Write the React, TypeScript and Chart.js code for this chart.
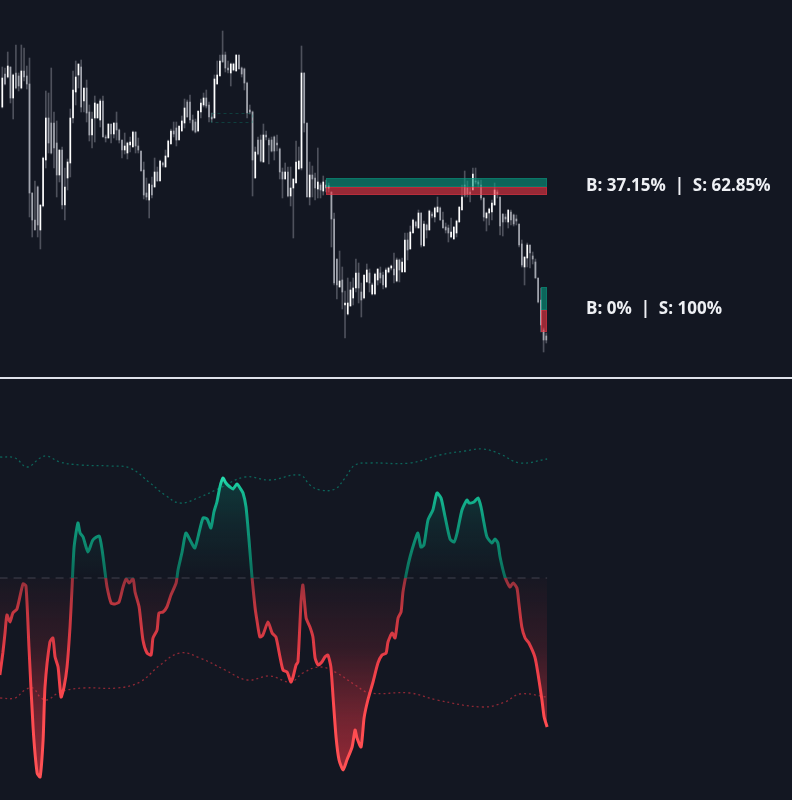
import React, { useEffect, useRef } from 'react';
import { Chart, registerables } from 'chart.js';
Chart.register(...registerables);

const BG = '#131722';

// ---- price bars (one per bar index 0..200) ----
const opens = [
  293,326,323,333,302,327,324,312,329,324,
  316,207,180,213,170,194,240,282,277,277,
  257,225,250,195,222,237,282,308,325,333,
  299,312,288,265,282,282,280,299,263,262,
  276,266,277,270,260,250,247,255,253,268,
  254,249,230,207,200,215,213,228,219,237,
  233,243,256,269,272,260,269,277,298,298,
  280,278,269,288,295,302,295,283,282,316,
  324,345,345,332,327,330,329,345,332,331,
  317,290,288,222,260,260,238,265,260,260,
  263,257,251,228,221,228,204,212,217,231,
  232,327,277,203,225,222,211,215,209,215,
  212,208,181,141,113,120,95,86,94,102,
  112,127,108,102,118,127,106,106,120,127,
  125,113,128,132,131,119,140,128,128,160,
  151,167,178,172,187,154,175,170,186,183,
  188,192,180,173,172,163,161,167,178,190,
  215,212,208,210,219,218,215,202,182,187,
  188,195,208,203,186,183,178,188,185,181,
  176,156,133,142,155,144,138,122,100,70,
  64,
];
const highs = [
  333,332,348,333,326,355,327,355,352,334,
  342,207,219,214,195,243,309,307,332,288,
  279,250,253,232,241,291,329,339,336,340,
  312,320,295,288,304,296,301,304,265,276,
  276,277,288,271,260,267,258,263,269,268,
  262,249,238,222,216,223,242,233,240,238,
  250,260,271,278,278,274,284,301,300,305,
  285,281,289,301,307,310,298,287,325,339,
  345,369,348,339,337,337,345,345,333,332,
  318,295,289,253,263,265,276,269,262,263,
  264,265,252,232,237,233,233,221,259,253,
  354,327,277,238,234,227,252,217,224,220,
  217,208,187,141,149,133,109,122,118,122,
  141,137,117,125,136,131,117,127,131,133,
  128,132,133,135,147,142,141,142,167,167,
  174,181,179,190,187,179,176,190,188,193,
  203,193,188,177,175,182,173,180,193,215,
  229,219,212,232,232,220,220,202,188,192,
  200,217,210,203,186,186,190,190,186,185,
  176,160,143,157,155,148,141,122,112,72,
  67,
];
const lows = [
  292,315,322,297,281,311,309,311,319,311,
  183,163,170,163,151,193,232,247,246,232,
  203,218,191,180,210,223,277,295,312,288,
  288,278,259,252,258,282,273,263,258,262,
  257,262,260,257,242,246,241,248,253,247,
  247,229,201,200,182,202,213,219,219,233,
  233,243,256,263,254,260,269,272,283,277,
  269,267,268,282,293,292,278,278,282,316,
  324,338,328,327,314,329,329,331,323,310,
  282,286,204,222,245,238,238,260,236,248,
  240,249,221,202,221,203,194,162,217,231,
  230,268,203,195,203,200,202,202,205,208,
  208,153,115,101,113,91,62,85,94,95,
  108,97,83,101,118,108,105,105,115,117,
  111,112,127,130,117,118,118,128,128,140,
  151,167,172,172,153,154,162,170,182,178,
  188,180,172,167,158,162,161,163,178,190,
  203,203,198,210,216,213,200,179,169,175,
  180,195,202,165,164,178,172,175,174,175,
  153,133,115,133,132,136,122,97,68,48,
  57,
];
const closes = [
  322,316,334,302,325,312,314,329,323,316,
  207,180,170,175,195,242,282,257,247,252,
  225,250,195,213,238,282,310,323,336,293,
  312,287,265,281,297,296,299,263,262,276,
  266,277,270,260,250,254,257,258,268,254,
  250,229,205,203,216,205,228,219,239,235,
  244,259,269,266,260,274,279,292,283,280,
  270,268,289,297,302,294,283,281,321,325,
  339,338,332,330,336,336,345,331,326,317,
  287,288,240,248,246,239,265,263,255,249,
  249,255,228,221,228,204,212,221,238,239,
  327,277,203,225,221,212,218,210,218,212,
  214,181,117,115,119,108,97,97,110,112,
  127,112,100,125,130,117,115,126,131,122,
  115,130,132,134,125,140,130,138,160,150,
  168,180,174,187,155,176,170,189,184,192,
  193,180,172,170,167,168,173,179,193,203,
  205,206,206,226,218,216,202,183,187,191,
  197,210,206,174,178,181,190,180,176,179,
  155,135,143,155,147,141,122,98,75,60,
  60,
];

// ---- order-block zones (bar index / price) ----
const zoneStart = [119, 198.2];
const zoneEnd = [200.3, 200.3];
const zoneTop = [222, 113];
const zoneMid = [213, 90];
const zoneBottom = [205, 68];
const buyPct = ['37.15', '0'];
const sellPct = ['62.85', '100'];

// faint mitigated zone
const ghostStart = [76.7];
const ghostEnd = [91.8];
const ghostTop = [287];
const ghostBottom = [278];

// ---- oscillator (bar index, value) ----
const oscT = [
  -0.9,0.2,1.0,1.7,2.8,3.9,5.4,7.6,8.7,9.8,11.3,12.8,13.9,15.0,15.7,17.5,18.6,19.4,20.5,21.6,
  22.7,23.8,24.9,25.6,26.4,27.8,28.6,29.7,31.5,33.3,35.6,36.7,37.8,38.5,40.0,41.4,42.9,44.4,45.5,46.6,
  48.1,48.8,50.3,51.7,53.2,54.7,55.4,56.9,57.6,59.1,60.5,62.0,63.9,64.6,66.1,67.5,69.4,70.8,72.3,73.8,
  75.3,76.7,77.8,78.9,80.0,81.1,82.2,83.7,84.8,86.3,87.4,88.5,89.6,90.7,91.8,92.9,93.6,94.7,95.8,97.7,
  99.2,100.6,102.1,103.2,104.7,106.1,106.9,108.0,108.7,109.8,110.5,111.7,113.1,114.2,115.0,116.1,117.5,118.6,119.7,120.8,
  121.6,122.7,123.8,125.3,126.7,128.6,129.7,130.4,131.9,133.0,134.4,136.3,138.1,139.6,141.1,141.8,143.3,144.4,145.5,146.6,
  147.3,148.8,149.9,151.4,152.8,153.9,155.0,156.5,158.3,159.8,161.3,162.8,164.6,166.1,167.2,169.0,170.8,171.6,173.4,174.9,
  176.0,177.1,178.2,180.0,181.1,182.2,183.0,184.8,186.6,187.8,189.2,189.9,191.0,192.2,193.6,195.8,196.9,198.4,199.2,200.3,
];
const oscV = [
  -48.5,-37.5,-27.5,-18.5,-22,-17.5,-15.5,-3,-4,-34.5,-74.5,-97.5,-99.5,-81,-54.5,-32,-30,-39.5,-44.5,-59.5,
  -54.5,-44.5,-24.5,-6,15.5,27.5,22.5,20.5,13,19,21,14,2.5,-4.5,-12.5,-13,-12,-4.5,-0.5,-2.5,
  -0.5,-7,-14.5,-31,-37.5,-38.5,-30,-26,-17.5,-17,-14.5,-8.5,-2.5,4,13,22.5,18,15,22.5,30,
  29.5,25,33,38,45.5,50,47.5,45.5,44.5,47,45,42.5,35.5,19,0.5,-14.5,-21,-29.5,-28.5,-22,
  -27.5,-29.5,-39.5,-46,-47,-52,-49.5,-43.5,-42,-12.5,-3.5,-20,-24.5,-29.5,-40,-43.5,-42,-39.5,-38.5,-44.5,
  -59.5,-79.5,-91,-96,-91,-84.5,-76,-80,-84.5,-70,-61,-52,-42.5,-38.5,-37.5,-32,-27.5,-30,-20,-17,
  -7,4,10.5,17.5,22.5,15.5,16.5,29,34,42.5,40,30.5,19.5,18,22.5,34,39,37.5,38,40,
  35.5,27.5,20.5,17.5,19.5,17.5,10.5,0.5,-4.5,-2.5,-5,-12.5,-24.5,-30,-32.5,-39.5,-47.5,-61,-69.5,-74.5,
];
const upperT = [-0.8,4.7,9.1,13.9,16.4,21.2,28.6,39.6,46.9,54.3,59.8,65.3,72.7,80.0,89.2,98.4,109.4,113.1,116.8,122.3,126.0,129.7,135.2,149.9,160.9,170.1,176.7,183.0,190.3,200.3];
const upperV = [60.5,60,55.5,60,61,58,56.5,56,55,47.5,41.5,37.5,40.5,45,50.5,49,51.5,46.5,44,44.5,50,56.5,57.5,57.5,61.5,63.5,64.5,62,57.5,59.5];
const lowerT = [-0.8,4.7,8.3,11.3,13.9,16.4,21.2,29.7,42.2,50.6,58.0,65.3,72.7,81.9,90.0,98.4,106.0,110.5,116.8,123.0,129.7,135.2,149.9,159.8,176.7,184.8,190.3,200.3];
const lowerV = [-60,-60,-56,-55,-59.5,-61,-57,-55,-55,-52,-43.5,-37.5,-40,-46,-51,-49,-52,-47.5,-44.5,-47.5,-53.5,-57.5,-57.5,-61,-64.5,-62,-58,-59.5];
const zeroT = [-1, 200.3];
const zeroV = [0, 0];

const X_MIN = -0.846;
const X_MAX = 290.33;

const zonePlugin = {
  id: 'zones',
  afterDatasetsDraw(chart: any) {
    const { ctx, scales } = chart;
    const x = scales.x, y = scales.y;
    ctx.save();
    ghostStart.forEach((s, i) => {
      const x0 = x.getPixelForValue(s), x1 = x.getPixelForValue(ghostEnd[i]);
      const y0 = y.getPixelForValue(ghostTop[i]), y1 = y.getPixelForValue(ghostBottom[i]);
      ctx.strokeStyle = 'rgba(8,153,129,0.3)';
      ctx.lineWidth = 1;
      ctx.setLineDash([3, 3]);
      ctx.strokeRect(Math.round(x0) + 0.5, Math.round(y0) + 0.5, Math.round(x1 - x0), Math.round(y1 - y0));
    });
    ctx.setLineDash([]);
    zoneStart.forEach((s, i) => {
      const x0 = Math.round(x.getPixelForValue(s));
      const x1 = Math.round(x.getPixelForValue(zoneEnd[i]));
      const yT = Math.round(y.getPixelForValue(zoneTop[i]));
      const yM = Math.round(y.getPixelForValue(zoneMid[i]));
      const yB = Math.round(y.getPixelForValue(zoneBottom[i]));
      ctx.fillStyle = 'rgba(8,153,129,0.6)';
      ctx.fillRect(x0, yT, x1 - x0, yM - yT);
      ctx.fillStyle = 'rgba(242,54,69,0.6)';
      ctx.fillRect(x0, yM, x1 - x0, yB - yM);
      ctx.lineWidth = 1;
      ctx.strokeStyle = 'rgba(8,153,129,0.35)';
      ctx.strokeRect(x0 + 0.5, yT + 0.5, x1 - x0 - 1, yM - yT - 1);
      ctx.strokeStyle = 'rgba(242,54,69,0.35)';
      ctx.strokeRect(x0 + 0.5, yM + 0.5, x1 - x0 - 1, yB - yM - 1);
    });
    ctx.restore();
  },
  afterDraw(chart: any) {
    const { ctx, scales } = chart;
    const x = scales.x, y = scales.y;
    ctx.save();
    ctx.font = '700 17px "Open Sans"';
    ctx.fillStyle = '#eef0f4';
    ctx.textBaseline = 'middle';
    ctx.textAlign = 'left';
    zoneStart.forEach((s, i) => {
      const xr = x.getPixelForValue(zoneEnd[i]);
      const yc = (y.getPixelForValue(zoneTop[i]) + y.getPixelForValue(zoneBottom[i])) / 2;
      ctx.fillText(`B: ${buyPct[i]}%  |  S: ${sellPct[i]}%`, xr + 39, yc);
    });
    ctx.restore();
  },
};

const oscGradPlugin = {
  id: 'oscGrad',
  afterLayout(chart: any) {
    const y = chart.scales.y;
    const ctx = chart.ctx;
    const top = 55, bot = -100;
    const pT = y.getPixelForValue(top), pB = y.getPixelForValue(bot);
    const f = (v: number) => (y.getPixelForValue(v) - pT) / (pB - pT);
    const line = ctx.createLinearGradient(0, pT, 0, pB);
    line.addColorStop(0, '#35f5c5');
    line.addColorStop(f(45), '#16c096');
    line.addColorStop(f(30), '#0f9c7e');
    line.addColorStop(f(12), '#0c8269');
    line.addColorStop(f(0.3), '#0b6d5c');
    line.addColorStop(f(-0.3), '#96303b');
    line.addColorStop(f(-15), '#c0363f');
    line.addColorStop(f(-40), '#e83d47');
    line.addColorStop(f(-65), '#ff4a4f');
    line.addColorStop(1, '#ff5255');
    const p0 = y.getPixelForValue(0);
    const above = ctx.createLinearGradient(0, y.getPixelForValue(55), 0, p0);
    above.addColorStop(0, 'rgba(8,153,129,0.3)');
    above.addColorStop(0.5, 'rgba(8,153,129,0.12)');
    above.addColorStop(1, 'rgba(8,153,129,0.0)');
    const below = ctx.createLinearGradient(0, p0, 0, y.getPixelForValue(-100));
    below.addColorStop(0, 'rgba(242,54,69,0.02)');
    below.addColorStop(0.35, 'rgba(242,54,69,0.14)');
    below.addColorStop(0.7, 'rgba(242,54,69,0.42)');
    below.addColorStop(1, 'rgba(242,54,69,0.6)');
    const ds = chart.data.datasets[3];
    ds.borderColor = line;
    ds.fill = { target: { value: 0 }, above, below };
  },
};

export default function App() {
  const topRef = useRef<HTMLCanvasElement>(null);
  const botRef = useRef<HTMLCanvasElement>(null);

  useEffect(() => {
    document.body.style.margin = '0';
    document.body.style.background = BG;
    const wick = highs.map((h, i) => ({ x: i, y: [lows[i], h] }));
    const body = opens.map((o, i) => ({ x: i, y: [Math.min(o, closes[i]), Math.max(o, closes[i])] }));
    const bodyColors = opens.map((o, i) => (closes[i] >= o ? '#ffffff' : '#a3a6af'));

    const top = new Chart(topRef.current as HTMLCanvasElement, {
      type: 'bar',
      data: {
        datasets: [
          {
            label: 'body', data: body as any, backgroundColor: bodyColors, barThickness: 1,
            grouped: false, minBarLength: 1, borderWidth: 0, order: 1,
          } as any,
          {
            label: 'wick', data: wick as any, backgroundColor: '#4e515c', barThickness: 1,
            grouped: false, borderWidth: 0, order: 2,
          } as any,
        ],
      },
      options: {
        responsive: false,
        animation: false,
        events: [],
        layout: { padding: 0 },
        plugins: { legend: { display: false }, tooltip: { enabled: false } },
        scales: {
          x: { type: 'linear', min: X_MIN, max: X_MAX, offset: false, display: false },
          y: { type: 'linear', min: 23, max: 400, display: false },
        },
      },
      plugins: [zonePlugin],
    });

    const bot = new Chart(botRef.current as HTMLCanvasElement, {
      type: 'line',
      data: {
        datasets: [
          {
            label: 'zero', data: zeroT.map((t, i) => ({ x: t, y: zeroV[i] })),
            borderColor: 'rgba(120,123,134,0.45)', borderWidth: 1, borderDash: [8, 6],
            pointRadius: 0, fill: false, order: 4,
          },
          {
            label: 'upper', data: upperT.map((t, i) => ({ x: t, y: upperV[i] })),
            borderColor: 'rgba(8,153,129,0.6)', borderWidth: 1.3, borderDash: [2, 3],
            pointRadius: 0, tension: 0.4, fill: false, order: 3,
          },
          {
            label: 'lower', data: lowerT.map((t, i) => ({ x: t, y: lowerV[i] })),
            borderColor: 'rgba(242,54,69,0.55)', borderWidth: 1.3, borderDash: [2, 3],
            pointRadius: 0, tension: 0.4, fill: false, order: 2,
          },
          {
            label: 'osc', data: oscT.map((t, i) => ({ x: t, y: oscV[i] })),
            borderColor: '#0b6d5c', borderWidth: 3, pointRadius: 0, tension: 0.2,
            fill: { target: { value: 0 }, above: 'rgba(8,153,129,0.15)', below: 'rgba(242,54,69,0.2)' },
            order: 1,
          } as any,
        ],
      },
      options: {
        responsive: false,
        animation: false,
        events: [],
        layout: { padding: 0 },
        plugins: { legend: { display: false }, tooltip: { enabled: false } },
        scales: {
          x: { type: 'linear', min: X_MIN, max: X_MAX, offset: false, display: false },
          y: { type: 'linear', min: -111, max: 99.5, display: false },
        },
      },
      plugins: [oscGradPlugin],
    });

    return () => {
      top.destroy();
      bot.destroy();
    };
  }, []);

  return (
    <div style={{ position: 'fixed', left: 0, top: 0, width: 792, height: 800, background: BG, overflow: 'hidden' }}>
      <canvas ref={topRef} width={792} height={377} style={{ position: 'absolute', left: 0, top: 0, width: 792, height: 377 }} />
      <div style={{ position: 'absolute', left: 0, top: 377, width: 792, height: 2, background: '#dfe2ea' }} />
      <canvas ref={botRef} width={792} height={421} style={{ position: 'absolute', left: 0, top: 379, width: 792, height: 421 }} />
    </div>
  );
}
